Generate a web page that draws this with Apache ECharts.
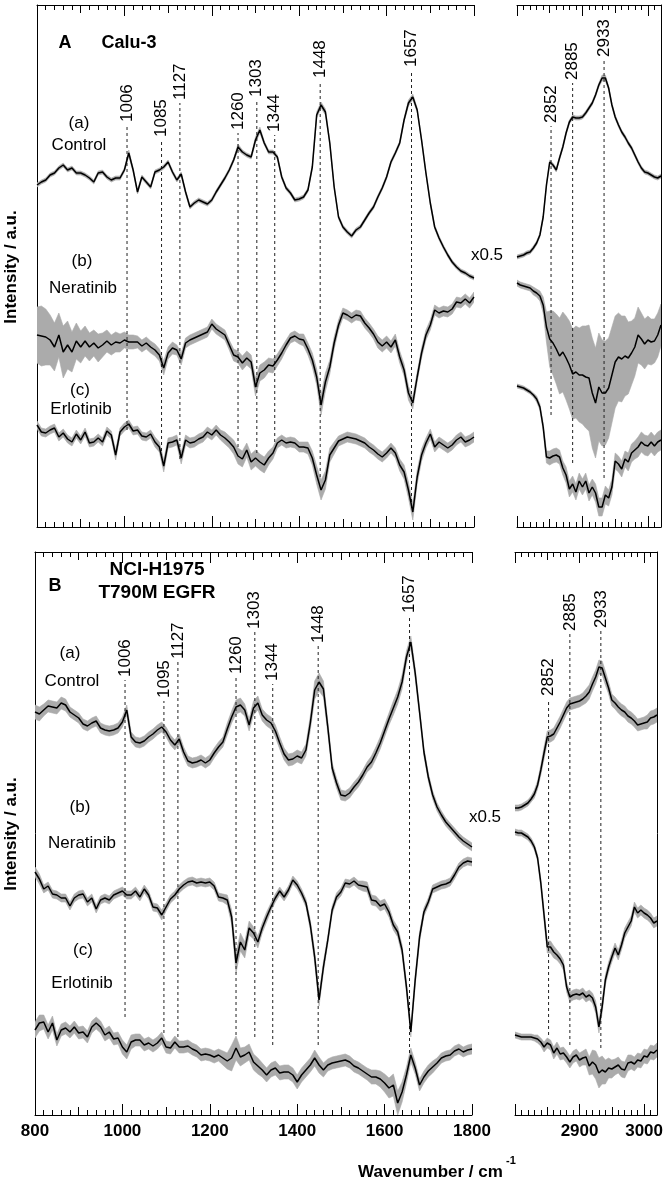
<!DOCTYPE html>
<html><head><meta charset="utf-8">
<script src="https://cdn.jsdelivr.net/npm/echarts@6/dist/echarts.min.js"></script>
<style>html,body{margin:0;padding:0;background:#fff}#c{width:666px;height:1182px}</style>
</head><body><div id="c"></div>
<script>
// ---------- wavenumber grids (cm-1) ----------
const wnLow = [
800,810,820,830,840,850,860,870,880,890,
900,910,920,930,940,950,960,970,980,990,
1000,1010,1020,1030,1040,1050,1060,1070,1080,1090,
1100,1110,1120,1130,1140,1150,1160,1170,1180,1190,
1200,1210,1220,1230,1240,1250,1260,1270,1280,1290,
1300,1310,1320,1330,1340,1350,1360,1370,1380,1390,
1400,1410,1420,1430,1440,1450,1460,1470,1480,1490,
1500,1510,1520,1530,1540,1550,1560,1570,1580,1590,
1600,1610,1620,1630,1640,1650,1660,1670,1680,1690,
1700,1710,1720,1730,1740,1750,1760,1770,1780,1790,
1800];
const wnHigh = [
2800,2805,2810,2815,2820,2825,2830,2835,2840,2845,
2850,2855,2860,2865,2870,2875,2880,2885,2890,2895,
2900,2905,2910,2915,2920,2925,2930,2935,2940,2945,
2950,2955,2960,2965,2970,2975,2980,2985,2990,2995,
3000,3005,3010,3015,3020];

// ---------- Panel A: Calu-3 (intensity a.u., offset spectra) ----------
const calu3CtrlLow = [
342,345,347,352,354,359,362,357,359,354,
354,352,349,345,354,355,350,347,349,349,
357,374,357,335,350,345,340,355,357,360,
365,355,347,353,335,320,324,327,325,323,
327,335,342,349,357,367,380,375,372,370,
387,397,384,375,375,370,350,339,334,327,
328,330,337,360,412,422,415,384,340,310,
300,295,291,297,300,307,314,320,330,339,
350,365,374,384,407,424,430,417,387,354,
324,300,289,280,272,265,260,256,254,251,
249];
const calu3CtrlLowSd = [
2,2,2,2,2,2,2,2,2,2,
2,2,2,2,2,2,2,2,2,2,
2,3,2,2,2,2,2,2,2,2,
2,2,2,2,2,2,2,2,2,2,
2,2,2,2,2,2,3,2,2,2,
3,3,2,2,2,2,2,2,2,2,
2,2,2,2,3,3,3,2,2,2,
2,2,2,2,2,2,2,2,2,2,
2,2,2,2,2,3,3,2,2,2,
2,2,2,2,2,2,2,2,2,2,
2];
const calu3NerLow = [
192,191,190,187,180,192,175,182,175,186,
180,186,180,184,179,182,186,182,185,184,
187,185,185,185,181,184,180,177,172,159,
174,179,177,168,184,187,189,191,193,195,
203,198,195,192,182,172,170,164,169,165,
140,154,157,162,161,167,174,182,189,191,
188,187,178,167,150,122,145,160,184,202,
214,212,209,212,211,204,199,193,185,181,
185,180,187,170,157,134,124,150,174,192,
202,217,214,216,215,218,225,224,228,224,
230];
const calu3NerLowSd = [
28,30,28,25,24,22,26,24,20,18,
16,15,14,13,14,12,11,10,10,9,
8,7,7,6,6,6,6,6,6,7,
6,6,5,6,5,5,5,5,5,5,
5,5,5,5,5,6,6,7,7,7,
9,8,8,7,7,6,6,5,5,5,
5,6,6,7,8,10,9,7,6,5,
5,5,5,5,5,5,5,5,6,6,
6,6,6,6,6,7,6,5,5,5,
5,5,5,5,5,5,5,5,5,5,
5];
const calu3ErlLow = [
102,95,94,97,99,90,94,88,85,93,
87,95,84,85,89,85,96,92,72,95,
100,103,96,97,91,90,93,85,80,61,
84,85,87,69,87,84,85,88,90,95,
92,97,92,89,85,80,71,68,77,65,
69,65,62,69,74,84,87,84,85,84,
80,80,79,69,52,37,47,72,79,86,
88,90,89,88,86,84,80,77,73,70,
74,79,74,62,55,37,15,50,72,84,
93,80,85,82,79,82,87,90,85,87,
90];
const calu3ErlLowSd = [
4,4,4,4,4,4,4,4,4,4,
4,4,4,4,4,4,4,4,5,4,
4,4,4,4,4,4,4,5,5,6,
5,5,5,6,5,5,5,5,5,5,
5,5,5,6,6,7,8,8,7,8,
8,8,8,7,6,5,5,5,5,5,
5,5,6,7,9,10,9,7,6,5,
5,5,5,5,5,5,5,5,5,5,
5,5,5,6,7,8,8,7,6,5,
5,5,5,5,5,5,5,5,5,5,
5];
const calu3CtrlHigh = [
270,271,272,274,275,279,284,292,310,342,
365,362,357,369,380,394,405,410,409,409,
410,414,419,424,432,442,449,449,439,422,
410,402,395,390,384,379,372,365,359,355,
354,352,350,349,351];
const calu3CtrlHighSd = [
2,2,2,2,2,2,2,2,2,2,
2,2,2,2,2,2,2,2,2,2,
2,2,2,2,2,2,3,3,2,2,
2,2,2,2,2,2,2,2,2,2,
2,2,2,2,2];
const calu3NerHigh = [
244,242,241,240,239,236,234,231,222,200,
188,184,178,171,175,169,162,153,155,152,
152,150,149,134,124,140,134,134,139,152,
165,170,168,171,169,174,180,192,188,183,
187,185,186,192,202];
const calu3NerHighSd = [
3,3,3,3,3,4,4,5,8,15,
28,32,35,38,40,42,44,45,46,47,
49,51,53,55,55,54,53,52,50,48,
46,44,43,40,36,32,29,28,26,25,
24,23,22,22,21];
const calu3ErlHigh = [
141,140,139,137,135,132,128,120,100,70,
69,71,72,70,59,52,38,43,35,46,
40,46,34,40,34,20,20,32,29,40,
66,63,58,68,65,74,77,80,85,82,
81,85,81,85,87];
const calu3ErlHighSd = [
2,2,2,2,2,2,3,3,4,6,
7,7,7,7,7,8,8,8,8,8,
8,8,8,8,9,9,9,9,8,8,
8,8,8,8,9,9,9,10,10,10,
10,10,10,10,10];

// ---------- Panel B: NCI-H1975 T790M EGFR ----------
const h1975CtrlLow = [
403,401,405,409,408,407,412,410,403,400,
397,391,389,392,394,387,385,384,385,387,
393,405,378,373,372,374,378,381,385,388,
383,375,370,376,363,354,352,353,355,352,
355,362,368,373,386,398,408,410,405,390,
407,412,400,395,392,384,372,361,355,356,
359,357,365,392,425,433,426,388,347,332,
320,319,322,328,333,340,348,353,362,372,
384,396,407,418,433,458,473,442,403,363,
338,320,308,300,293,288,283,278,274,271,
268];
const h1975CtrlLowSd = [
7,7,6,6,6,6,6,6,5,5,
5,5,5,5,5,5,5,5,5,5,
5,5,5,5,5,5,5,5,5,5,
5,5,5,5,5,5,5,5,5,5,
5,5,5,5,6,6,7,7,6,6,
7,7,6,6,6,6,6,6,6,6,
6,6,6,7,9,9,8,6,5,5,
5,5,5,5,5,5,5,6,6,6,
6,6,7,7,7,6,6,5,4,4,
4,4,4,4,4,4,4,4,4,4,
4];
const h1975NerLow = [
243,236,226,229,221,220,217,217,209,217,
220,221,213,217,206,215,217,215,220,222,
224,220,220,224,218,226,220,208,207,200,
208,216,220,226,230,233,234,232,233,232,
233,229,218,217,215,198,152,173,165,187,
182,173,187,198,208,217,224,218,225,235,
230,222,212,190,158,115,148,175,205,218,
223,232,231,234,230,229,228,215,214,209,
211,203,190,183,165,128,83,135,178,203,
213,226,228,230,231,233,240,248,252,254,
253];
const h1975NerLowSd = [
5,5,4,4,4,4,4,4,4,4,
4,4,4,4,4,4,4,4,4,4,
4,4,4,4,4,4,4,4,4,5,
4,4,4,4,4,4,4,4,4,4,
4,4,4,4,5,7,10,9,8,7,
6,6,5,5,4,4,4,4,4,4,
4,4,4,5,6,6,5,4,4,4,
4,4,4,4,4,5,5,5,5,5,
5,5,5,5,5,5,5,5,5,4,
4,4,4,4,4,4,4,4,4,4,
4];
const h1975ErlLow = [
85,92,93,83,92,75,85,87,83,88,
82,83,78,88,92,88,80,83,76,77,
68,63,73,75,75,70,72,69,72,77,
68,67,73,68,68,69,66,64,60,61,
60,58,60,57,54,57,67,58,60,63,
53,49,45,40,45,47,42,43,43,40,
33,40,45,50,57,50,45,50,52,53,
54,55,53,49,47,44,41,38,38,36,
32,27,30,12,23,40,60,47,30,38,
44,48,52,57,59,60,64,66,63,65,
66];
const h1975ErlLowSd = [
8,8,7,7,7,6,6,6,6,6,
6,6,6,6,6,6,6,6,6,6,
7,7,7,6,6,6,6,6,6,6,
6,6,6,6,6,6,6,6,6,6,
6,6,6,7,8,13,12,9,8,8,
8,8,7,7,7,7,7,7,7,7,
7,7,7,7,8,8,7,6,6,6,
6,6,6,6,6,6,6,7,7,8,
9,10,11,12,10,8,7,6,6,6,
6,6,5,5,5,5,5,5,5,5,
5];
const h1975CtrlHigh = [
307,307,308,310,312,316,321,330,345,362,
378,379,381,387,393,400,407,411,412,413,
414,416,419,423,431,438,448,447,437,427,
415,412,408,405,403,399,397,394,390,391,
392,393,397,398,400];
const h1975CtrlHighSd = [
3,3,3,3,3,3,4,4,5,6,
6,6,6,6,6,6,6,6,6,6,
6,6,7,7,7,7,7,7,7,6,
6,6,6,6,6,6,6,6,6,6,
6,7,7,7,7];
const h1975NerHigh = [
283,282,282,280,278,274,268,257,232,200,
168,168,163,160,156,150,128,118,120,121,
120,122,118,120,117,108,88,108,135,148,
158,167,160,170,182,188,194,208,202,205,
202,200,197,192,194];
const h1975NerHighSd = [
3,3,3,3,3,3,3,3,4,5,
6,6,6,5,5,5,5,5,5,5,
5,5,5,5,5,6,6,6,5,5,
5,5,5,5,5,5,5,5,5,5,
5,5,5,5,5];
const h1975ErlHigh = [
80,79,78,78,78,78,77,76,73,68,
72,70,62,67,61,62,58,53,58,60,
55,57,58,49,53,50,42,45,43,47,
46,48,50,46,45,52,53,51,55,54,
59,58,63,62,65];
const h1975ErlHighSd = [
3,3,3,3,3,3,3,4,4,5,
5,5,6,6,6,6,6,6,6,6,
7,7,8,9,12,14,15,14,12,10,
9,8,8,8,8,8,7,7,7,7,
7,7,7,7,7];

// ---------- band assignments (dashed markers) ----------
const calu3PeaksLow = [1006,1085,1127,1260,1303,1344,1448,1657];
const h1975PeaksLow = [1006,1095,1127,1260,1303,1344,1448,1657];
const peaksHigh = [2852,2885,2933];
const calu3PeakTopLow = [402,387,424,394,427,392,446,457];
const calu3PeakEndLow = [97,70,68,80,74,85,50,19];
const calu3PeakTopHigh = [401,444,467];
const calu3PeakEndHigh = [112,64,49];
const h1975PeakTopLow = [435,414,453,438,483,431,469,499];
const h1975PeakEndLow = [98,82,78,80,78,70,70,62];
const h1975PeakTopHigh = [416,481,484];
const h1975PeakEndHigh = [80,70,67];

const lowTickLabels = [800,1000,1200,1400,1600,1800];
const highTickLabels = [2900,3000];

// ---------- build chart ----------
const FONT = "'Liberation Sans', Arial, Helvetica, sans-serif";
const grids = [
  {left:37, top:5, width:437, height:522},
  {left:517, top:5, width:144, height:522},
  {left:35, top:552, width:437, height:563},
  {left:515, top:552, width:144, height:563}
];
const xAxes = [], yAxes = [], series = [];
const ticksLow = [{step:200,len:11},{step:100,len:8},{step:20,len:5}];
const ticksHigh = [{step:100,len:11},{step:50,len:8},{step:10,len:5}];

function addAxes(gi, min, max, ticks, labelList, yMax, ySide) {
  const first = xAxes.length;
  ['bottom','top'].forEach(pos => {
    ticks.forEach((t, k) => {
      const showLab = !!labelList && pos === 'bottom' && k === 0;
      xAxes.push({
        type:'value', gridIndex:gi, position:pos, min:min, max:max, interval:t.step,
        axisLine:{show:k===0, onZero:false, lineStyle:{color:'#000', width:1}},
        axisTick:{show:true, inside:true, length:t.len, lineStyle:{color:'#000', width:1}},
        axisLabel:{show:showLab, color:'#000', fontFamily:FONT, fontWeight:'bold', fontSize:17, margin:8,
          formatter: v => (labelList && labelList.indexOf(v) >= 0) ? String(v) : ''},
        splitLine:{show:false}, minorTick:{show:false}
      });
    });
  });
  yAxes.push({type:'value', gridIndex:gi, min:0, max:yMax, position:ySide,
    axisLine:{show:true, onZero:false, lineStyle:{color:'#000', width:1}},
    axisTick:{show:false}, axisLabel:{show:false}, splitLine:{show:false}});
  return {x:first, y:yAxes.length - 1};
}

function addCurve(ax, wn, vals, sd) {
  // grey ±sd band as one polygon drawn through the axis scales
  series.push({type:'custom', coordinateSystem:'cartesian2d', xAxisIndex:ax.x, yAxisIndex:ax.y,
    silent:true, z:1, clip:true,
    data: wn.map((w,i)=>[w, vals[i]-sd[i], vals[i]+sd[i]]),
    renderItem: function (params, api) {
      if (params.dataIndex !== 0) return null;
      const pts = [];
      for (let i = 0; i < wn.length; i++) pts.push(api.coord([wn[i], vals[i]-sd[i]]));
      for (let i = wn.length - 1; i >= 0; i--) pts.push(api.coord([wn[i], vals[i]+sd[i]]));
      return {type:'polygon', shape:{points:pts}, style:{fill:'#ababab', stroke:'#ababab', lineWidth:0.6}};
    }});
  series.push({type:'line', xAxisIndex:ax.x, yAxisIndex:ax.y, symbol:'none', silent:true,
    lineStyle:{color:'#000', width:1.5}, z:3, data: wn.map((w,i)=>[w, vals[i]])});
}
function addPeaks(ax, peaks, tops, ends) {
  peaks.forEach((p,i) => {
    series.push({type:'line', xAxisIndex:ax.x, yAxisIndex:ax.y, symbol:'none', silent:true, z:2,
      lineStyle:{color:'#222', width:1, type:[3,3]}, data:[[p, ends[i]],[p, tops[i]]]});
  });
  series.push({type:'scatter', xAxisIndex:ax.x, yAxisIndex:ax.y, symbolSize:0, silent:true, z:4,
    itemStyle:{color:'#000', opacity:1},
    data: peaks.map((p,i)=>({value:[p, tops[i]], name:String(p)})),
    label:{show:true, formatter:'{b}', position:'top', distance:3, rotate:90, align:'left', verticalAlign:'middle',
      fontSize:17, fontFamily:FONT, color:'#000', opacity:1}});
}

const axA1 = addAxes(0, 800, 1800, ticksLow, null, 522, 'left');
const axA2 = addAxes(1, 2800, 3020, ticksHigh, null, 522, 'right');
const axB1 = addAxes(2, 800, 1800, ticksLow, lowTickLabels, 563, 'left');
const axB2 = addAxes(3, 2800, 3020, ticksHigh, highTickLabels, 563, 'right');

addCurve(axA1, wnLow, calu3CtrlLow, calu3CtrlLowSd);
addCurve(axA1, wnLow, calu3NerLow, calu3NerLowSd);
addCurve(axA1, wnLow, calu3ErlLow, calu3ErlLowSd);
addCurve(axA2, wnHigh, calu3CtrlHigh, calu3CtrlHighSd);
addCurve(axA2, wnHigh, calu3NerHigh, calu3NerHighSd);
addCurve(axA2, wnHigh, calu3ErlHigh, calu3ErlHighSd);
addCurve(axB1, wnLow, h1975CtrlLow, h1975CtrlLowSd);
addCurve(axB1, wnLow, h1975NerLow, h1975NerLowSd);
addCurve(axB1, wnLow, h1975ErlLow, h1975ErlLowSd);
addCurve(axB2, wnHigh, h1975CtrlHigh, h1975CtrlHighSd);
addCurve(axB2, wnHigh, h1975NerHigh, h1975NerHighSd);
addCurve(axB2, wnHigh, h1975ErlHigh, h1975ErlHighSd);

addPeaks(axA1, calu3PeaksLow, calu3PeakTopLow, calu3PeakEndLow);
addPeaks(axA2, peaksHigh, calu3PeakTopHigh, calu3PeakEndHigh);
addPeaks(axB1, h1975PeaksLow, h1975PeakTopLow, h1975PeakEndLow);
addPeaks(axB2, peaksHigh, h1975PeakTopHigh, h1975PeakEndHigh);

function txt(t, x, y, size, bold, rot) {
  return {type:'text', x:x, y:y, rotation: rot || 0, silent:true, z:10,
    style:{text:t, fill:'#000', font:(bold?'bold ':'') + size + 'px ' + FONT, align:'center', verticalAlign:'middle'}};
}
const graphic = [
  txt('A', 65, 43, 18, true), txt('Calu-3', 129, 43, 18, true),
  txt('(a)', 79, 123, 17), txt('Control', 79, 145, 17),
  txt('(b)', 82, 261, 17), txt('Neratinib', 83, 288, 17),
  txt('(c)', 80, 390, 17), txt('Erlotinib', 81, 409, 17),
  txt('x0.5', 487, 255, 17),
  txt('B', 55, 586, 18, true), txt('NCI-H1975', 157, 570, 19, true), txt('T790M EGFR', 157, 593, 19, true),
  txt('(a)', 70, 653, 17), txt('Control', 72, 681, 17),
  txt('(b)', 80, 807, 17), txt('Neratinib', 82, 843, 17),
  txt('(c)', 83, 950, 17), txt('Erlotinib', 82, 983, 17),
  txt('x0.5', 485, 817, 17),
  txt('Intensity / a.u.', 11, 267, 17, true, Math.PI/2),
  txt('Intensity / a.u.', 11, 834, 17, true, Math.PI/2),
  {type:'text', x:358, y:1172, silent:true, style:{text:'Wavenumber / cm', fill:'#000', font:'bold 17px ' + FONT, align:'left', verticalAlign:'middle'}},
  {type:'text', x:506, y:1161, silent:true, style:{text:'-1', fill:'#000', font:'bold 11px ' + FONT, align:'left', verticalAlign:'middle'}}
];

const chart = echarts.init(document.getElementById('c'), null, {renderer:'canvas'});
chart.setOption({
  animation:false,
  backgroundColor:'#fff',
  grid:grids, xAxis:xAxes, yAxis:yAxes, series:series, graphic:graphic
});
</script>
</body></html>
